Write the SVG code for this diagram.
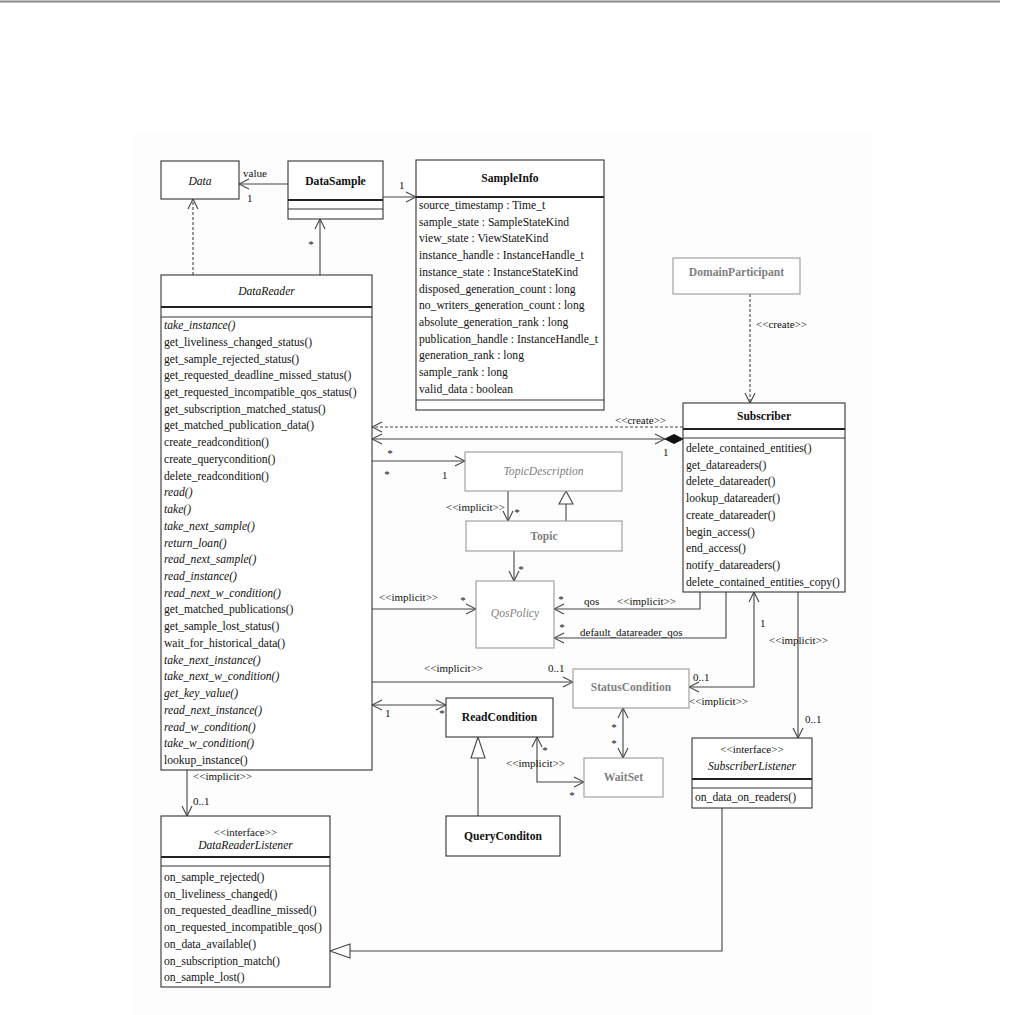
<svg xmlns="http://www.w3.org/2000/svg" width="1010" height="1015" viewBox="0 0 1010 1015">
<style>
.t{font-family:"Liberation Serif","Times New Roman",serif;font-size:11.6px;fill:#111}
.s{font-size:11px}
.b{font-weight:bold}
.i{font-style:italic}
.g{fill:#7f7f7f}
.m{text-anchor:middle}
.e{text-anchor:end}
.box{fill:#fff;stroke:#333;stroke-width:1.1}
.gbox{fill:#fff;stroke:#9a9a9a;stroke-width:1.1}
.sep{stroke:#333;stroke-width:1}
.thk{stroke:#222;stroke-width:2.2}
.ln{fill:none;stroke:#444;stroke-width:1.1}
.dash{stroke-dasharray:3,2}
.hol{fill:#fff;stroke:#444;stroke-width:1.1}
</style>
<defs>
<marker id="op" markerUnits="userSpaceOnUse" markerWidth="12" markerHeight="12" viewBox="0 0 12 12" refX="11" refY="6" orient="auto-start-reverse">
<path d="M1,1 L11,6 L1,11" fill="none" stroke="#444" stroke-width="1.1"/>
</marker>
</defs>
<rect x="0" y="0" width="1010" height="1015" fill="#fff"/>
<rect x="134" y="133" width="738" height="882" fill="#fdfdfd"/>
<line x1="0" y1="1.5" x2="1000" y2="1.5" stroke="#888" stroke-width="2"/>

<g id="connectors">
<line class="ln" x1="288" y1="184" x2="239" y2="184" marker-end="url(#op)"/>
<text class="t s" x="243" y="177">value</text>
<text class="t s" x="247" y="202">1</text>
<line class="ln" x1="383" y1="197" x2="416" y2="197" marker-end="url(#op)"/>
<text class="t s" x="399" y="189">1</text>
<line class="ln dash" x1="193" y1="275" x2="193" y2="199" marker-end="url(#op)"/>
<line class="ln" x1="320" y1="275" x2="320" y2="219" marker-end="url(#op)"/>
<text class="t s m" x="311" y="248">*</text>
<line class="ln dash" x1="750" y1="294" x2="750" y2="403" marker-end="url(#op)"/>
<text class="t s" x="756" y="328">&lt;&lt;create&gt;&gt;</text>
<line class="ln dash" x1="683" y1="427" x2="372" y2="427" marker-end="url(#op)"/>
<text class="t s" x="615" y="424">&lt;&lt;create&gt;&gt;</text>
<line class="ln" x1="372" y1="439" x2="665" y2="439" marker-start="url(#op)" marker-end="url(#op)"/>
<polygon points="665,439 674,434.5 683,439 674,443.5" fill="#111" stroke="#111"/>
<text class="t s" x="663" y="456">1</text>
<text class="t s m" x="390" y="457">*</text>
<line class="ln" x1="372" y1="461" x2="465" y2="461" marker-end="url(#op)"/>
<text class="t s m" x="387" y="478">*</text>
<text class="t s" x="442" y="479">1</text>
<line class="ln" x1="508" y1="491" x2="508" y2="521" marker-end="url(#op)"/>
<text class="t s e" x="505" y="511">&lt;&lt;implicit&gt;&gt;</text>
<text class="t s m" x="517" y="516">*</text>
<line class="ln" x1="566" y1="521" x2="566" y2="504"/>
<polygon class="hol" points="566,491 559,504 573,504"/>
<line class="ln" x1="514" y1="551" x2="514" y2="581" marker-end="url(#op)"/>
<text class="t s m" x="521" y="573">*</text>
<line class="ln" x1="372" y1="609" x2="476" y2="609" marker-end="url(#op)"/>
<text class="t s" x="379" y="601">&lt;&lt;implicit&gt;&gt;</text>
<text class="t s m" x="463" y="604">*</text>
<polyline class="ln" points="700,592 700,609 554,609" marker-end="url(#op)"/>
<text class="t s m" x="561" y="603">*</text>
<text class="t s" x="584" y="605">qos</text>
<text class="t s" x="617" y="605">&lt;&lt;implicit&gt;&gt;</text>
<polyline class="ln" points="726,592 726,638 554,638" marker-end="url(#op)"/>
<text class="t s m" x="562" y="631">*</text>
<text class="t s" x="580" y="636">default_datareader_qos</text>
<line class="ln" x1="372" y1="682" x2="573" y2="682" marker-end="url(#op)"/>
<text class="t s" x="424" y="672">&lt;&lt;implicit&gt;&gt;</text>
<text class="t s" x="548" y="672">0..1</text>
<line class="ln" x1="372" y1="705" x2="446" y2="705" marker-start="url(#op)" marker-end="url(#op)"/>
<text class="t s" x="385" y="717">1</text>
<text class="t s m" x="442" y="717">*</text>
<polyline class="ln" points="754,592 754,687 689,687" marker-start="url(#op)" marker-end="url(#op)"/>
<text class="t s" x="760" y="627">1</text>
<text class="t s" x="693" y="681">0..1</text>
<text class="t s" x="689" y="705">&lt;&lt;implicit&gt;&gt;</text>
<line class="ln" x1="798" y1="592" x2="798" y2="738" marker-end="url(#op)"/>
<text class="t s" x="769" y="644">&lt;&lt;implicit&gt;&gt;</text>
<text class="t s" x="805" y="723">0..1</text>
<line class="ln" x1="623" y1="708" x2="623" y2="758" marker-start="url(#op)" marker-end="url(#op)"/>
<text class="t s m" x="614" y="731">*</text>
<text class="t s m" x="614" y="747">*</text>
<polyline class="ln" points="537,737 537,782 584,782" marker-start="url(#op)" marker-end="url(#op)"/>
<text class="t s m" x="545" y="754">*</text>
<text class="t s" x="506" y="767">&lt;&lt;implicit&gt;&gt;</text>
<text class="t s m" x="572" y="799">*</text>
<line class="ln" x1="478" y1="816" x2="478" y2="758"/>
<polygon class="hol" points="478,737 471,758 485,758"/>
<line class="ln" x1="187" y1="770" x2="187" y2="816" marker-end="url(#op)"/>
<text class="t s" x="193" y="780">&lt;&lt;implicit&gt;&gt;</text>
<text class="t s" x="193" y="805">0..1</text>
<polyline class="ln" points="722,808 722,951 350,951"/>
<polygon class="hol" points="330,951 350,944 350,958"/>
</g>

<g id="Data">
<rect class="box" x="161" y="161" width="78" height="38"/>
<text class="t i m" x="200" y="185">Data</text>
</g>

<g id="DataSample">
<rect class="box" x="288" y="161" width="95" height="58"/>
<line class="thk" x1="288" y1="200" x2="383" y2="200"/>
<line class="sep" x1="288" y1="209" x2="383" y2="209"/>
<text class="t b m" x="335.5" y="185">DataSample</text>
</g>

<g id="SampleInfo">
<rect class="box" x="416" y="160" width="188" height="250"/>
<line class="thk" x1="416" y1="197" x2="604" y2="197"/>
<line class="sep" x1="416" y1="400" x2="604" y2="400"/>
<text class="t b m" x="510" y="182">SampleInfo</text>
<text class="t" x="419" y="209">source_timestamp : Time_t</text>
<text class="t" x="419" y="225.7">sample_state : SampleStateKind</text>
<text class="t" x="419" y="242.4">view_state : ViewStateKind</text>
<text class="t" x="419" y="259.1">instance_handle : InstanceHandle_t</text>
<text class="t" x="419" y="275.8">instance_state : InstanceStateKind</text>
<text class="t" x="419" y="292.5">disposed_generation_count : long</text>
<text class="t" x="419" y="309.2">no_writers_generation_count : long</text>
<text class="t" x="419" y="325.9">absolute_generation_rank : long</text>
<text class="t" x="419" y="342.6">publication_handle : InstanceHandle_t</text>
<text class="t" x="419" y="359.3">generation_rank : long</text>
<text class="t" x="419" y="376">sample_rank : long</text>
<text class="t" x="419" y="392.7">valid_data : boolean</text>
</g>

<g id="DataReader">
<rect class="box" x="161" y="275" width="211" height="495"/>
<line class="thk" x1="161" y1="307" x2="372" y2="307"/>
<line class="sep" x1="161" y1="317" x2="372" y2="317"/>
<text class="t i m" x="266.5" y="295">DataReader</text>
<text class="t i" x="164" y="329">take_instance()</text>
<text class="t" x="164" y="345.7">get_liveliness_changed_status()</text>
<text class="t" x="164" y="362.5">get_sample_rejected_status()</text>
<text class="t" x="164" y="379.2">get_requested_deadline_missed_status()</text>
<text class="t" x="164" y="395.9">get_requested_incompatible_qos_status()</text>
<text class="t" x="164" y="412.7">get_subscription_matched_status()</text>
<text class="t" x="164" y="429.4">get_matched_publication_data()</text>
<text class="t" x="164" y="446.1">create_readcondition()</text>
<text class="t" x="164" y="462.8">create_querycondition()</text>
<text class="t" x="164" y="479.6">delete_readcondition()</text>
<text class="t i" x="164" y="496.3">read()</text>
<text class="t i" x="164" y="513">take()</text>
<text class="t i" x="164" y="529.8">take_next_sample()</text>
<text class="t i" x="164" y="546.5">return_loan()</text>
<text class="t i" x="164" y="563.2">read_next_sample()</text>
<text class="t i" x="164" y="580">read_instance()</text>
<text class="t i" x="164" y="596.7">read_next_w_condition()</text>
<text class="t" x="164" y="613.4">get_matched_publications()</text>
<text class="t" x="164" y="630.1">get_sample_lost_status()</text>
<text class="t" x="164" y="646.9">wait_for_historical_data()</text>
<text class="t i" x="164" y="663.6">take_next_instance()</text>
<text class="t i" x="164" y="680.3">take_next_w_condition()</text>
<text class="t i" x="164" y="697.1">get_key_value()</text>
<text class="t i" x="164" y="713.8">read_next_instance()</text>
<text class="t i" x="164" y="730.5">read_w_condition()</text>
<text class="t i" x="164" y="747.2">take_w_condition()</text>
<text class="t" x="164" y="764">lookup_instance()</text>
</g>

<g id="DomainParticipant">
<rect class="gbox" x="673" y="258" width="127" height="36"/>
<text class="t b g m" x="736.5" y="276">DomainParticipant</text>
</g>

<g id="Subscriber">
<rect class="box" x="683" y="403" width="162" height="189"/>
<line class="thk" x1="683" y1="429" x2="845" y2="429"/>
<line class="sep" x1="683" y1="438" x2="845" y2="438"/>
<text class="t b m" x="764" y="420">Subscriber</text>
<text class="t" x="686" y="452">delete_contained_entities()</text>
<text class="t" x="686" y="468.7">get_datareaders()</text>
<text class="t" x="686" y="485.4">delete_datareader()</text>
<text class="t" x="686" y="502.1">lookup_datareader()</text>
<text class="t" x="686" y="518.8">create_datareader()</text>
<text class="t" x="686" y="535.5">begin_access()</text>
<text class="t" x="686" y="552.2">end_access()</text>
<text class="t" x="686" y="568.9">notify_datareaders()</text>
<text class="t" x="686" y="585.6">delete_contained_entities_copy()</text>
</g>

<g id="TopicDescription">
<rect class="gbox" x="465" y="452" width="157" height="39"/>
<text class="t i g m" x="543.5" y="475">TopicDescription</text>
</g>

<g id="Topic">
<rect class="gbox" x="466" y="521" width="156" height="30"/>
<text class="t b g m" x="544" y="540">Topic</text>
</g>

<g id="QosPolicy">
<rect class="gbox" x="476" y="581" width="78" height="67"/>
<text class="t i g m" x="515" y="617">QosPolicy</text>
</g>

<g id="StatusCondition">
<rect class="gbox" x="573" y="669" width="116" height="39"/>
<text class="t b g m" x="631" y="691">StatusCondition</text>
</g>

<g id="ReadCondition">
<rect class="box" x="446" y="698" width="107" height="39"/>
<text class="t b m" x="499.5" y="721">ReadCondition</text>
</g>

<g id="WaitSet">
<rect class="gbox" x="584" y="758" width="79" height="39"/>
<text class="t b g m" x="623.5" y="781">WaitSet</text>
</g>

<g id="QueryConditon">
<rect class="box" x="446" y="816" width="114" height="40"/>
<text class="t b m" x="503" y="840">QueryConditon</text>
</g>

<g id="SubscriberListener">
<rect class="box" x="692" y="738" width="120" height="70"/>
<text class="t s m" x="752" y="753">&lt;&lt;interface&gt;&gt;</text>
<text class="t i m" x="752" y="770">SubscriberListener</text>
<line class="thk" x1="692" y1="779" x2="812" y2="779"/>
<line class="sep" x1="692" y1="788" x2="812" y2="788"/>
<text class="t" x="695" y="801">on_data_on_readers()</text>
</g>

<g id="DataReaderListener">
<rect class="box" x="161" y="816" width="169" height="171"/>
<text class="t s m" x="245.5" y="836">&lt;&lt;interface&gt;&gt;</text>
<text class="t i m" x="245.5" y="849">DataReaderListener</text>
<line class="thk" x1="161" y1="857" x2="330" y2="857"/>
<line class="sep" x1="161" y1="866" x2="330" y2="866"/>
<text class="t" x="164" y="881">on_sample_rejected()</text>
<text class="t" x="164" y="897.7">on_liveliness_changed()</text>
<text class="t" x="164" y="914.4">on_requested_deadline_missed()</text>
<text class="t" x="164" y="931.1">on_requested_incompatible_qos()</text>
<text class="t" x="164" y="947.8">on_data_available()</text>
<text class="t" x="164" y="964.5">on_subscription_match()</text>
<text class="t" x="164" y="981.2">on_sample_lost()</text>
</g>
</svg>
